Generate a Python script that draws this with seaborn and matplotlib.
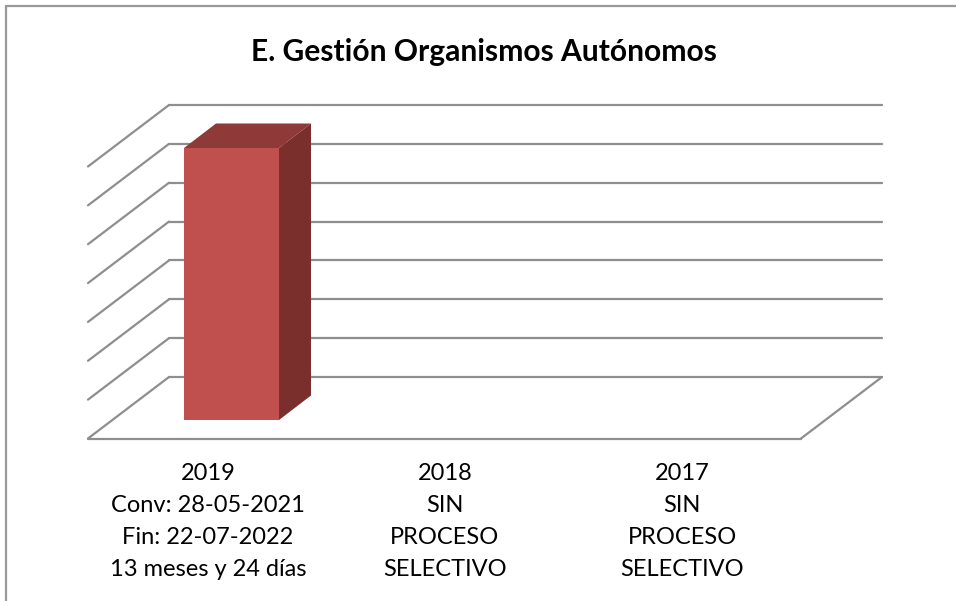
import matplotlib
matplotlib.use("Agg")
import matplotlib.pyplot as plt
from matplotlib.patches import Polygon
import pandas as pd
import seaborn as sns

# datos del grafico
categorias = ["2019\nConv: 28-05-2021\nFin: 22-07-2022\n13 meses y 24 días",
              "2018\nSIN\nPROCESO\nSELECTIVO",
              "2017\nSIN\nPROCESO\nSELECTIVO"]
meses = [13.8, 0, 0]
niveles = [0, 2, 4, 6, 8, 10, 12, 14]
titulo = "E. Gestión Organismos Autónomos"

W, H = 956, 601
PX_CAT = 237.0    # px por categoria
PX_VAL = 272 / 13.8   # px por mes
X0, Y0 = 231.5, 420.0   # centro de la primera barra / base de la barra en px
ANCHO = 95 / PX_CAT

ROJO = "#C0504D"
ROJO_TOP = "#8F3A38"
ROJO_LADO = "#7A2F2D"
GRIS = "#8E8E8E"

sns.set_theme(style="white")
plt.rcParams["font.family"] = ["Lato", "DejaVu Sans"]

fig = plt.figure(figsize=(W / 100, H / 100), dpi=100)
ax = fig.add_axes([0, 0, 1, 1])

df = pd.DataFrame({"cat": categorias, "meses": meses})
sns.barplot(data=df, x="cat", y="meses", color=ROJO, saturation=1, width=ANCHO,
            linewidth=0, edgecolor="none", ax=ax)

# ejes en px para que la caja 3D coincida
ax.set_xlim(-X0 / PX_CAT, (W - X0) / PX_CAT)
ax.set_ylim(-(H - Y0) / PX_VAL, Y0 / PX_VAL)
ax.axis("off")


def px(x, y):
    return (x - X0) / PX_CAT, (Y0 - y) / PX_VAL


def linea(x1, y1, x2, y2, z=1, color=GRIS, lw=1.6):
    a, b = px(x1, y1), px(x2, y2)
    ax.plot([a[0], b[0]], [a[1], b[1]], color=color, lw=lw, zorder=z,
            solid_capstyle="round", solid_joinstyle="round")


# suelo y paredes
fondo_y0 = 377.0
paso = (fondo_y0 - 105.0) / (len(niveles) - 1)
for i in range(len(niveles)):
    y = fondo_y0 - i * paso
    linea(169, y, 882, y, z=0.5)
    linea(88, y + 61.5, 169, y, z=0.5)
linea(88, fondo_y0 + 61.5, 801, fondo_y0 + 61.5, z=0.5)
linea(801, fondo_y0 + 61.5, 882, fondo_y0, z=0.5)

# caras de la barra (la frontal la dibuja seaborn)
alto = meses[0] * PX_VAL
izq, der = X0 - ANCHO * PX_CAT / 2, X0 + ANCHO * PX_CAT / 2
dx, dy = 32, 24.5
sup = Y0 - alto
ax.add_patch(Polygon([px(izq, sup), px(der, sup), px(der + dx, sup - dy), px(izq + dx, sup - dy)],
                     color=ROJO_TOP, lw=0, zorder=3))
ax.add_patch(Polygon([px(der, sup), px(der + dx, sup - dy), px(der + dx, Y0 - dy), px(der, Y0)],
                     color=ROJO_LADO, lw=0, zorder=3))
for b in ax.patches:
    b.set_zorder(3)

# marco: sin lado derecho ni inferior
linea(6, 601, 6, 6, z=0.4, color="#9A9A9A", lw=1.6)
linea(6, 6, 956, 6, z=0.4, color="#9A9A9A", lw=1.6)

# textos
ax.text(*px(483.5, 52), titulo, ha="center", va="center", fontsize=21.6, fontweight="bold", color="black")
for i, cat in enumerate(categorias):
    xc = 208 + PX_CAT * i
    for j, t in enumerate(cat.split("\n")):
        ax.text(*px(xc, 473.5 + j * 32), t, ha="center", va="center", fontsize=17, color="black")

fig.savefig("out.png", dpi=100)
